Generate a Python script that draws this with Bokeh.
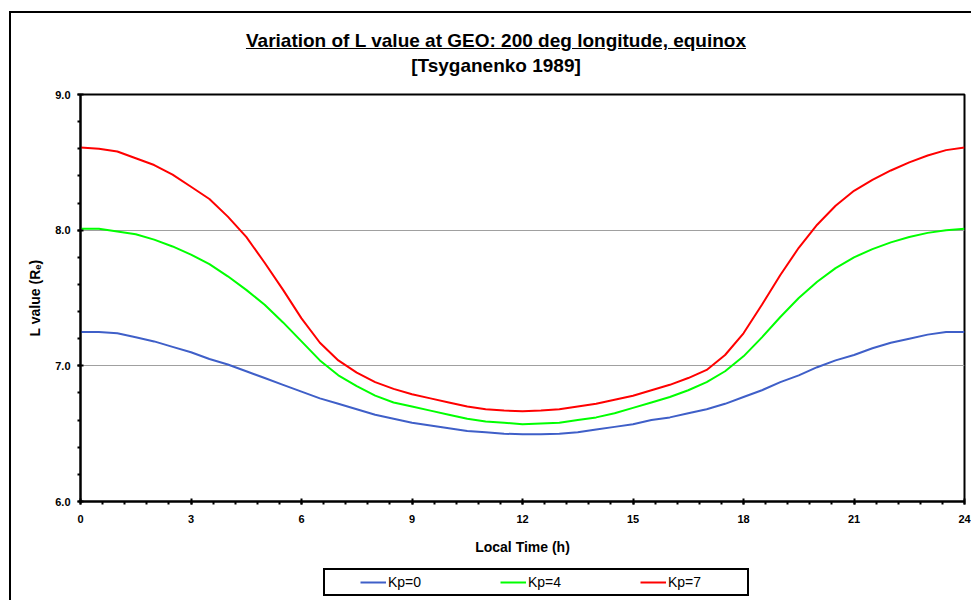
from bokeh.plotting import figure
from bokeh.models import (FixedTicker, Legend, LegendItem, Range1d, NumeralTickFormatter, Div)
from bokeh.layouts import column
from bokeh.embed import file_html
from bokeh.resources import INLINE

# Local time (hours) and L value (Earth radii) for each Kp level
local_time = [0, 0.5, 1, 1.5, 2, 2.5, 3, 3.5, 4, 4.5, 5, 5.5, 6, 6.5, 7, 7.5, 8, 8.5,
              9, 9.5, 10, 10.5, 11, 11.5, 12, 12.5, 13, 13.5, 14, 14.5, 15, 15.5, 16,
              16.5, 17, 17.5, 18, 18.5, 19, 19.5, 20, 20.5, 21, 21.5, 22, 22.5, 23,
              23.5, 24]
kp0 = [7.25, 7.25, 7.24, 7.21, 7.18, 7.14, 7.10, 7.05, 7.01, 6.96, 6.91, 6.86, 6.81,
       6.76, 6.72, 6.68, 6.64, 6.61, 6.58, 6.56, 6.54, 6.52, 6.51, 6.50, 6.495, 6.495,
       6.50, 6.51, 6.53, 6.55, 6.57, 6.60, 6.62, 6.65, 6.68, 6.72, 6.77, 6.82, 6.88,
       6.93, 6.99, 7.04, 7.08, 7.13, 7.17, 7.20, 7.23, 7.25, 7.25]
kp4 = [8.01, 8.01, 7.99, 7.97, 7.93, 7.88, 7.82, 7.75, 7.66, 7.56, 7.45, 7.32, 7.18,
       7.04, 6.93, 6.85, 6.78, 6.73, 6.70, 6.67, 6.64, 6.61, 6.59, 6.58, 6.57, 6.575,
       6.58, 6.60, 6.62, 6.65, 6.69, 6.73, 6.77, 6.82, 6.88, 6.96, 7.07, 7.21, 7.36,
       7.50, 7.62, 7.72, 7.80, 7.86, 7.91, 7.95, 7.98, 8.00, 8.01]
kp7 = [8.61, 8.60, 8.58, 8.53, 8.48, 8.41, 8.32, 8.23, 8.10, 7.95, 7.76, 7.56, 7.35,
       7.17, 7.04, 6.95, 6.88, 6.83, 6.79, 6.76, 6.73, 6.70, 6.68, 6.67, 6.665, 6.67,
       6.68, 6.70, 6.72, 6.75, 6.78, 6.82, 6.86, 6.91, 6.97, 7.08, 7.24, 7.45, 7.67,
       7.87, 8.04, 8.18, 8.29, 8.37, 8.44, 8.50, 8.55, 8.59, 8.61]

series_values = [kp0, kp4, kp7]
series_names = ["Kp=0", "Kp=4", "Kp=7"]
series_colors = ["#3F5FC8", "#00FF00", "#FF0000"]

x_ticks = [0, 3, 6, 9, 12, 15, 18, 21, 24]
y_ticks = [6.0, 7.0, 8.0, 9.0]

title_line1 = "Variation of L value at GEO: 200 deg longitude, equinox"
title_line2 = "[Tsyganenko 1989]"

FONT = "Liberation Sans"
W = 960

# ---- two-line heading, first line underlined ----
head = Div(
    text=(f'<div style="width:{W}px;padding-top:15px;padding-left:10px;box-sizing:border-box;'
          f'text-align:center;font-family:\'{FONT}\';font-weight:bold;font-size:19px;'
          f'line-height:25px;color:black;">'
          f'<span style="text-decoration:underline;">{title_line1}</span><br>'
          f'{title_line2}</div>'),
    width=W, height=76, styles={"margin": "0", "padding": "0"})

# ---- main chart ----
p = figure(width=W, height=472, output_backend="svg", toolbar_location=None,
           x_range=Range1d(0, 24), y_range=Range1d(6, 9),
           min_border_left=69, min_border_right=7, min_border_top=5,
           min_border_bottom=60)
p.background_fill_color = "white"
p.border_fill_color = "white"
p.outline_line_color = "black"
p.outline_line_width = 2

# only horizontal grid lines at 7 and 8
p.xgrid.visible = False
p.ygrid.ticker = FixedTicker(ticks=[7.0, 8.0])
p.ygrid.grid_line_color = "#A0A0A0"
p.ygrid.grid_line_width = 1

minor_x = [round(i * 0.6, 1) for i in range(0, 41)]
p.xaxis.ticker = FixedTicker(ticks=x_ticks, minor_ticks=minor_x)
p.xaxis.axis_label = "Local Time (h)"
p.yaxis.ticker = FixedTicker(ticks=y_ticks,
                             minor_ticks=[round(6 + i * 0.2, 1) for i in range(16)])
p.yaxis.axis_label = "L value (R\u2091)"
p.yaxis.formatter = NumeralTickFormatter(format="0.0")

for ax in (p.xaxis[0], p.yaxis[0]):
    ax.axis_line_color = "black"
    ax.axis_line_width = 2
    ax.major_tick_line_color = "black"
    ax.major_tick_line_width = 2
    ax.major_tick_in = 3
    ax.major_tick_out = 3
    ax.minor_tick_line_color = "black"
    ax.minor_tick_line_width = 2
    ax.minor_tick_in = 0
    ax.minor_tick_out = 3
    ax.major_label_text_font = FONT
    ax.major_label_text_font_style = "bold"
    ax.major_label_text_font_size = "11px"
    ax.major_label_text_color = "black"
    ax.axis_label_text_font = FONT
    ax.axis_label_text_font_style = "bold"
    ax.axis_label_text_font_size = "14px"
    ax.axis_label_text_color = "black"

p.xaxis.major_label_standoff = 10
p.xaxis.axis_label_standoff = 13
p.yaxis.major_label_standoff = 7
p.yaxis.axis_label_standoff = 9

for vals, col in zip(series_values, series_colors):
    p.line(local_time, vals, line_color=col, line_width=2)

# ---- legend strip (same side borders as the chart) ----
leg = figure(width=W, height=39, output_backend="svg", toolbar_location=None,
             x_range=Range1d(0, 24), y_range=Range1d(0, 1),
             min_border_left=69, min_border_right=7, min_border_top=0,
             min_border_bottom=0)
leg.xaxis.visible = False
leg.yaxis.visible = False
leg.xgrid.visible = False
leg.ygrid.visible = False
leg.outline_line_color = None
leg.background_fill_color = "white"
leg.border_fill_color = "white"
# the series again, out of this strip's y range, as legend sources
proxies = [leg.line(local_time, vals, line_color=col, line_width=2)
           for vals, col in zip(series_values, series_colors)]

# a blank title on the left insets the entries from the box edge
legend = Legend(items=[LegendItem(label=n, renderers=[r]) for n, r in zip(series_names, proxies)],
                orientation="horizontal", location=(243, 4),
                title=" ", title_location="left", title_standoff=17,
                title_text_font=FONT, title_text_font_size="14px",
                glyph_width=26, glyph_height=20, label_standoff=2, label_width=77,
                spacing=35, padding=2, margin=0,
                border_line_color="black", border_line_width=2, border_line_alpha=1,
                background_fill_color="white", background_fill_alpha=1,
                label_text_font=FONT, label_text_font_size="14px",
                label_text_color="black")
leg.add_layout(legend, "center")

page = column(head, p, leg, spacing=0,
              styles={"margin-left": "9px", "margin-top": "11px",
                      "border-left": "2px solid black", "border-top": "2px solid black"})

open("out.html", "w").write(file_html(page, INLINE))
